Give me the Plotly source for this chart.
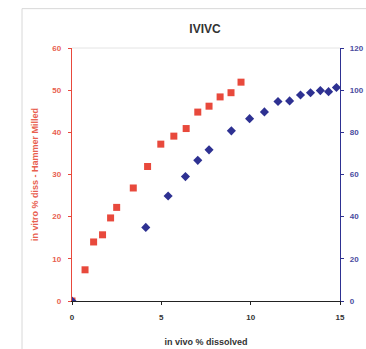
import plotly.graph_objects as go

# In vitro % dissolved (Hammer Milled) vs in vivo % dissolved
vitro_x = [0, 0.73, 1.21, 1.71, 2.16, 2.5, 3.43, 4.23, 4.97, 5.7, 6.39, 7.04, 7.67, 8.29, 8.9, 9.46]
vitro_y = [0, 7.4, 14.0, 15.7, 19.7, 22.2, 26.8, 31.9, 37.2, 39.1, 40.9, 44.8, 46.2, 48.4, 49.4, 51.9]

# Second series on right axis
vivo_x = [0, 4.13, 5.38, 6.35, 7.04, 7.67, 8.92, 9.94, 10.77, 11.53, 12.18, 12.79, 13.35, 13.9, 14.36, 14.8]
vivo_y = [0, 34.9, 49.8, 59.0, 66.7, 71.7, 80.7, 86.5, 89.7, 94.6, 94.9, 97.7, 98.8, 99.8, 99.3, 101.3]

x_ticks = [0, 5, 10, 15]
left_ticks = [0, 10, 20, 30, 40, 50, 60]
right_ticks = [0, 20, 40, 60, 80, 100, 120]

RED = "#e8493c"
RED_TXT = "#e8604f"
BLUE = "#2e3192"
BLUE_TXT = "#4a4ca0"
FONT = "Liberation Sans"

fig = go.Figure()
fig.add_trace(go.Scatter(x=vitro_x, y=vitro_y, mode="markers",
                         marker=dict(symbol="square", size=7, color=RED),
                         yaxis="y", showlegend=False))
fig.add_trace(go.Scatter(x=vivo_x, y=vivo_y, mode="markers",
                         marker=dict(symbol="diamond", size=7, color=BLUE),
                         yaxis="y2", showlegend=False))

W, H = 366, 349
L, R, T, B = 72, 26, 47.5, 47.5
pw, ph = W - L - R, H - T - B

def px(xp):
    return (xp - L) / pw

def py(yp):
    return (H - B - yp) / ph

fig.update_layout(
    width=W, height=H,
    margin=dict(l=L, r=R, t=T, b=B, autoexpand=False),
    paper_bgcolor="white", plot_bgcolor="white",
    font=dict(family=FONT),
    title=dict(text="<b>IVIVC</b>", x=(205) / W, xanchor="center",
               y=1 - 29 / H, yanchor="middle",
               font=dict(size=12, color="#333333", family=FONT)),
    xaxis=dict(range=[0, 15], tickvals=x_ticks, showgrid=False, zeroline=False,
               automargin=False,
               showline=True, linecolor="#222222", linewidth=1.2,
               ticks="outside", ticklen=3, tickcolor="#222222",
               ticklabelstandoff=5,
               tickfont=dict(size=8, color="#333333", family=FONT, weight="bold"),
               title=dict(text="<b>in vivo % dissolved</b>", standoff=17,
                          font=dict(size=9, color="#333333", family=FONT))),
    yaxis=dict(range=[0, 60], tickvals=left_ticks, showgrid=False, zeroline=False,
               automargin=False,
               showline=True, linecolor=RED, linewidth=1.3,
               ticks="outside", ticklen=3, tickcolor=RED,
               ticklabelstandoff=5,
               tickfont=dict(size=8, color=RED_TXT, family=FONT, weight="bold"),
               title=dict(text="<b>in vitro % diss - Hammer Milled</b>", standoff=12,
                          font=dict(size=9, color=RED_TXT, family=FONT))),
    yaxis2=dict(range=[0, 120], tickvals=right_ticks, overlaying="y", side="right",
                showgrid=False, zeroline=False, automargin=False,
                showline=True, linecolor=BLUE, linewidth=1.3,
                ticks="outside", ticklen=3, tickcolor=BLUE,
                ticklabelstandoff=4,
                tickfont=dict(size=8, color=BLUE_TXT, family=FONT, weight="bold")),
    shapes=[
        dict(type="rect", xref="paper", yref="paper",
             x0=px(22), x1=px(380), y0=py(360), y1=py(8),
             line=dict(color="#d8d8d8", width=1), fillcolor="rgba(0,0,0,0)", layer="below"),
        dict(type="line", xref="paper", yref="paper",
             x0=0, x1=1, y0=1, y1=1,
             line=dict(color="#e4e4e4", width=1), layer="below"),
    ],
)

fig.write_html("out.html")
